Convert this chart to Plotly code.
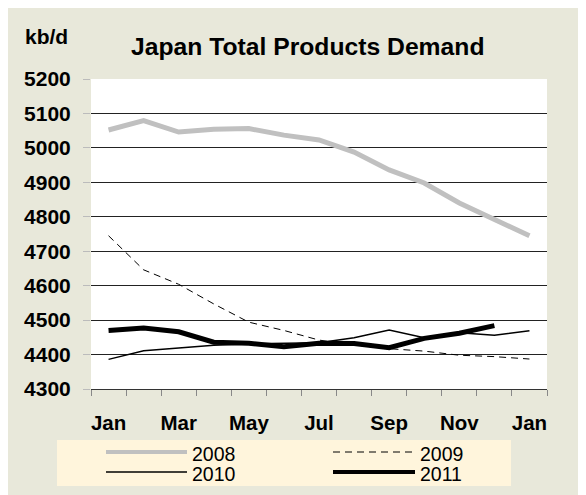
import plotly.graph_objects as go

# ==========================
# DATA
# ==========================
months = ["Jan", "Feb", "Mar", "Apr", "May", "Jun", "Jul",
          "Aug", "Sep", "Oct", "Nov", "Dec", "Jan"]
y2008 = [5052, 5079, 5046, 5054, 5056, 5037, 5023, 4988, 4936, 4898, 4840, 4794, 4745]
y2009 = [4745, 4646, 4604, 4547, 4494, 4470, 4442, 4428, 4417, 4410, 4398, 4394, 4387]
y2010 = [4386, 4411, 4419, 4427, 4431, 4432, 4434, 4449, 4471, 4449, 4463, 4456, 4469]
y2011 = [4470, 4477, 4466, 4436, 4433, 4423, 4433, 4432, 4420, 4447, 4462, 4484]

y_ticks = list(range(4300, 5201, 100))

# ==========================
# STYLES
# ==========================
# page has an 8px body margin, so the figure is 8px smaller than the window
OFF = 8
W, H = 586 - OFF, 495 - OFF
L, R, T, B = 83, 39, 71, 106
pw, ph = W - L - R, H - T - B

FONT = "Liberation Sans, Arial, sans-serif"
BEIGE = "#E8E8DA"
CREAM = "#FFF5DC"

series = [
    ("2008", y2008, dict(color="#C0C0C0", width=5)),
    ("2009", y2009, dict(color="black", width=1, dash="7px,5px")),
    ("2010", y2010, dict(color="black", width=1.5)),
    ("2011", y2011, dict(color="black", width=5)),
]


# page pixel -> paper coords
def px_x(v):
    return (v - OFF - L) / pw


def px_y(v):
    return (H - B - (v - OFF)) / ph


fig = go.Figure()

for name, vals, line in series:
    fig.add_trace(go.Scatter(
        x=list(range(len(vals))), y=vals, mode="lines", name=name,
        line=line, showlegend=False
    ))

shapes = [
    # legend box
    dict(type="rect", xref="paper", yref="paper",
         x0=px_x(57), x1=px_x(511), y0=px_y(486), y1=px_y(440),
         fillcolor=CREAM, line=dict(width=0)),
]

annotations = [
    dict(text="<b>Japan Total Products Demand</b>", xref="paper", yref="paper",
         x=px_x(307), y=px_y(47), showarrow=False, xanchor="center", yanchor="middle",
         font=dict(family=FONT, size=24.7, color="black")),
    dict(text="<b>kb/d</b>", xref="paper", yref="paper",
         x=px_x(23), y=px_y(36), showarrow=False, xanchor="left", yanchor="middle",
         font=dict(family=FONT, size=21, color="black")),
]

# custom legend: two columns, two rows
leg_pos = [(106, 187, 452), (333, 415, 452), (106, 187, 472), (333, 415, 472)]
for (name, vals, line), (lx0, lx1, ly) in zip(series, leg_pos):
    lline = dict(line)
    if name in ("2008", "2011"):
        lline["width"] = 4
    shapes.append(dict(type="line", xref="paper", yref="paper",
                       x0=px_x(lx0), x1=px_x(lx1), y0=px_y(ly), y1=px_y(ly),
                       line=lline))
    annotations.append(dict(text=name, xref="paper", yref="paper",
                            x=px_x(lx1 + 3), y=px_y(ly + 2), showarrow=False,
                            xanchor="left", yanchor="middle",
                            font=dict(family=FONT, size=19.5, color="black")))

fig.update_xaxes(
    range=[-0.5, len(months) - 0.5],
    tickmode="array",
    tickvals=list(range(0, len(months), 2)),
    ticktext=["<b>" + months[i] + "</b>" for i in range(0, len(months), 2)],
    ticks="", ticklabelstandoff=15,
    showgrid=False, zeroline=False,
    showline=True, linecolor="#333", linewidth=1,
    minor=dict(tick0=-0.5, dtick=1, ticks="outside", ticklen=6,
               tickcolor="#888", tickwidth=1, showgrid=False),
    tickfont=dict(family=FONT, size=20.5, color="black"),
    fixedrange=True,
)

fig.update_yaxes(
    range=[4300, 5200],
    tickmode="array", tickvals=y_ticks,
    ticktext=["<b>" + str(v) + "</b>" for v in y_ticks],
    ticks="outside", ticklen=7, tickcolor="#BBBBBB",
    ticklabelstandoff=8,
    showgrid=True, gridcolor="#222", gridwidth=1,
    zeroline=False, showline=False,
    tickfont=dict(family=FONT, size=21, color="black"),
    fixedrange=True,
)

fig.update_layout(
    width=W, height=H,
    margin=dict(l=L, r=R, t=T, b=B),
    paper_bgcolor=BEIGE,
    plot_bgcolor="white",
    showlegend=False,
    shapes=shapes,
    annotations=annotations,
)

fig.write_html("out.html", config={"displayModeBar": False})
